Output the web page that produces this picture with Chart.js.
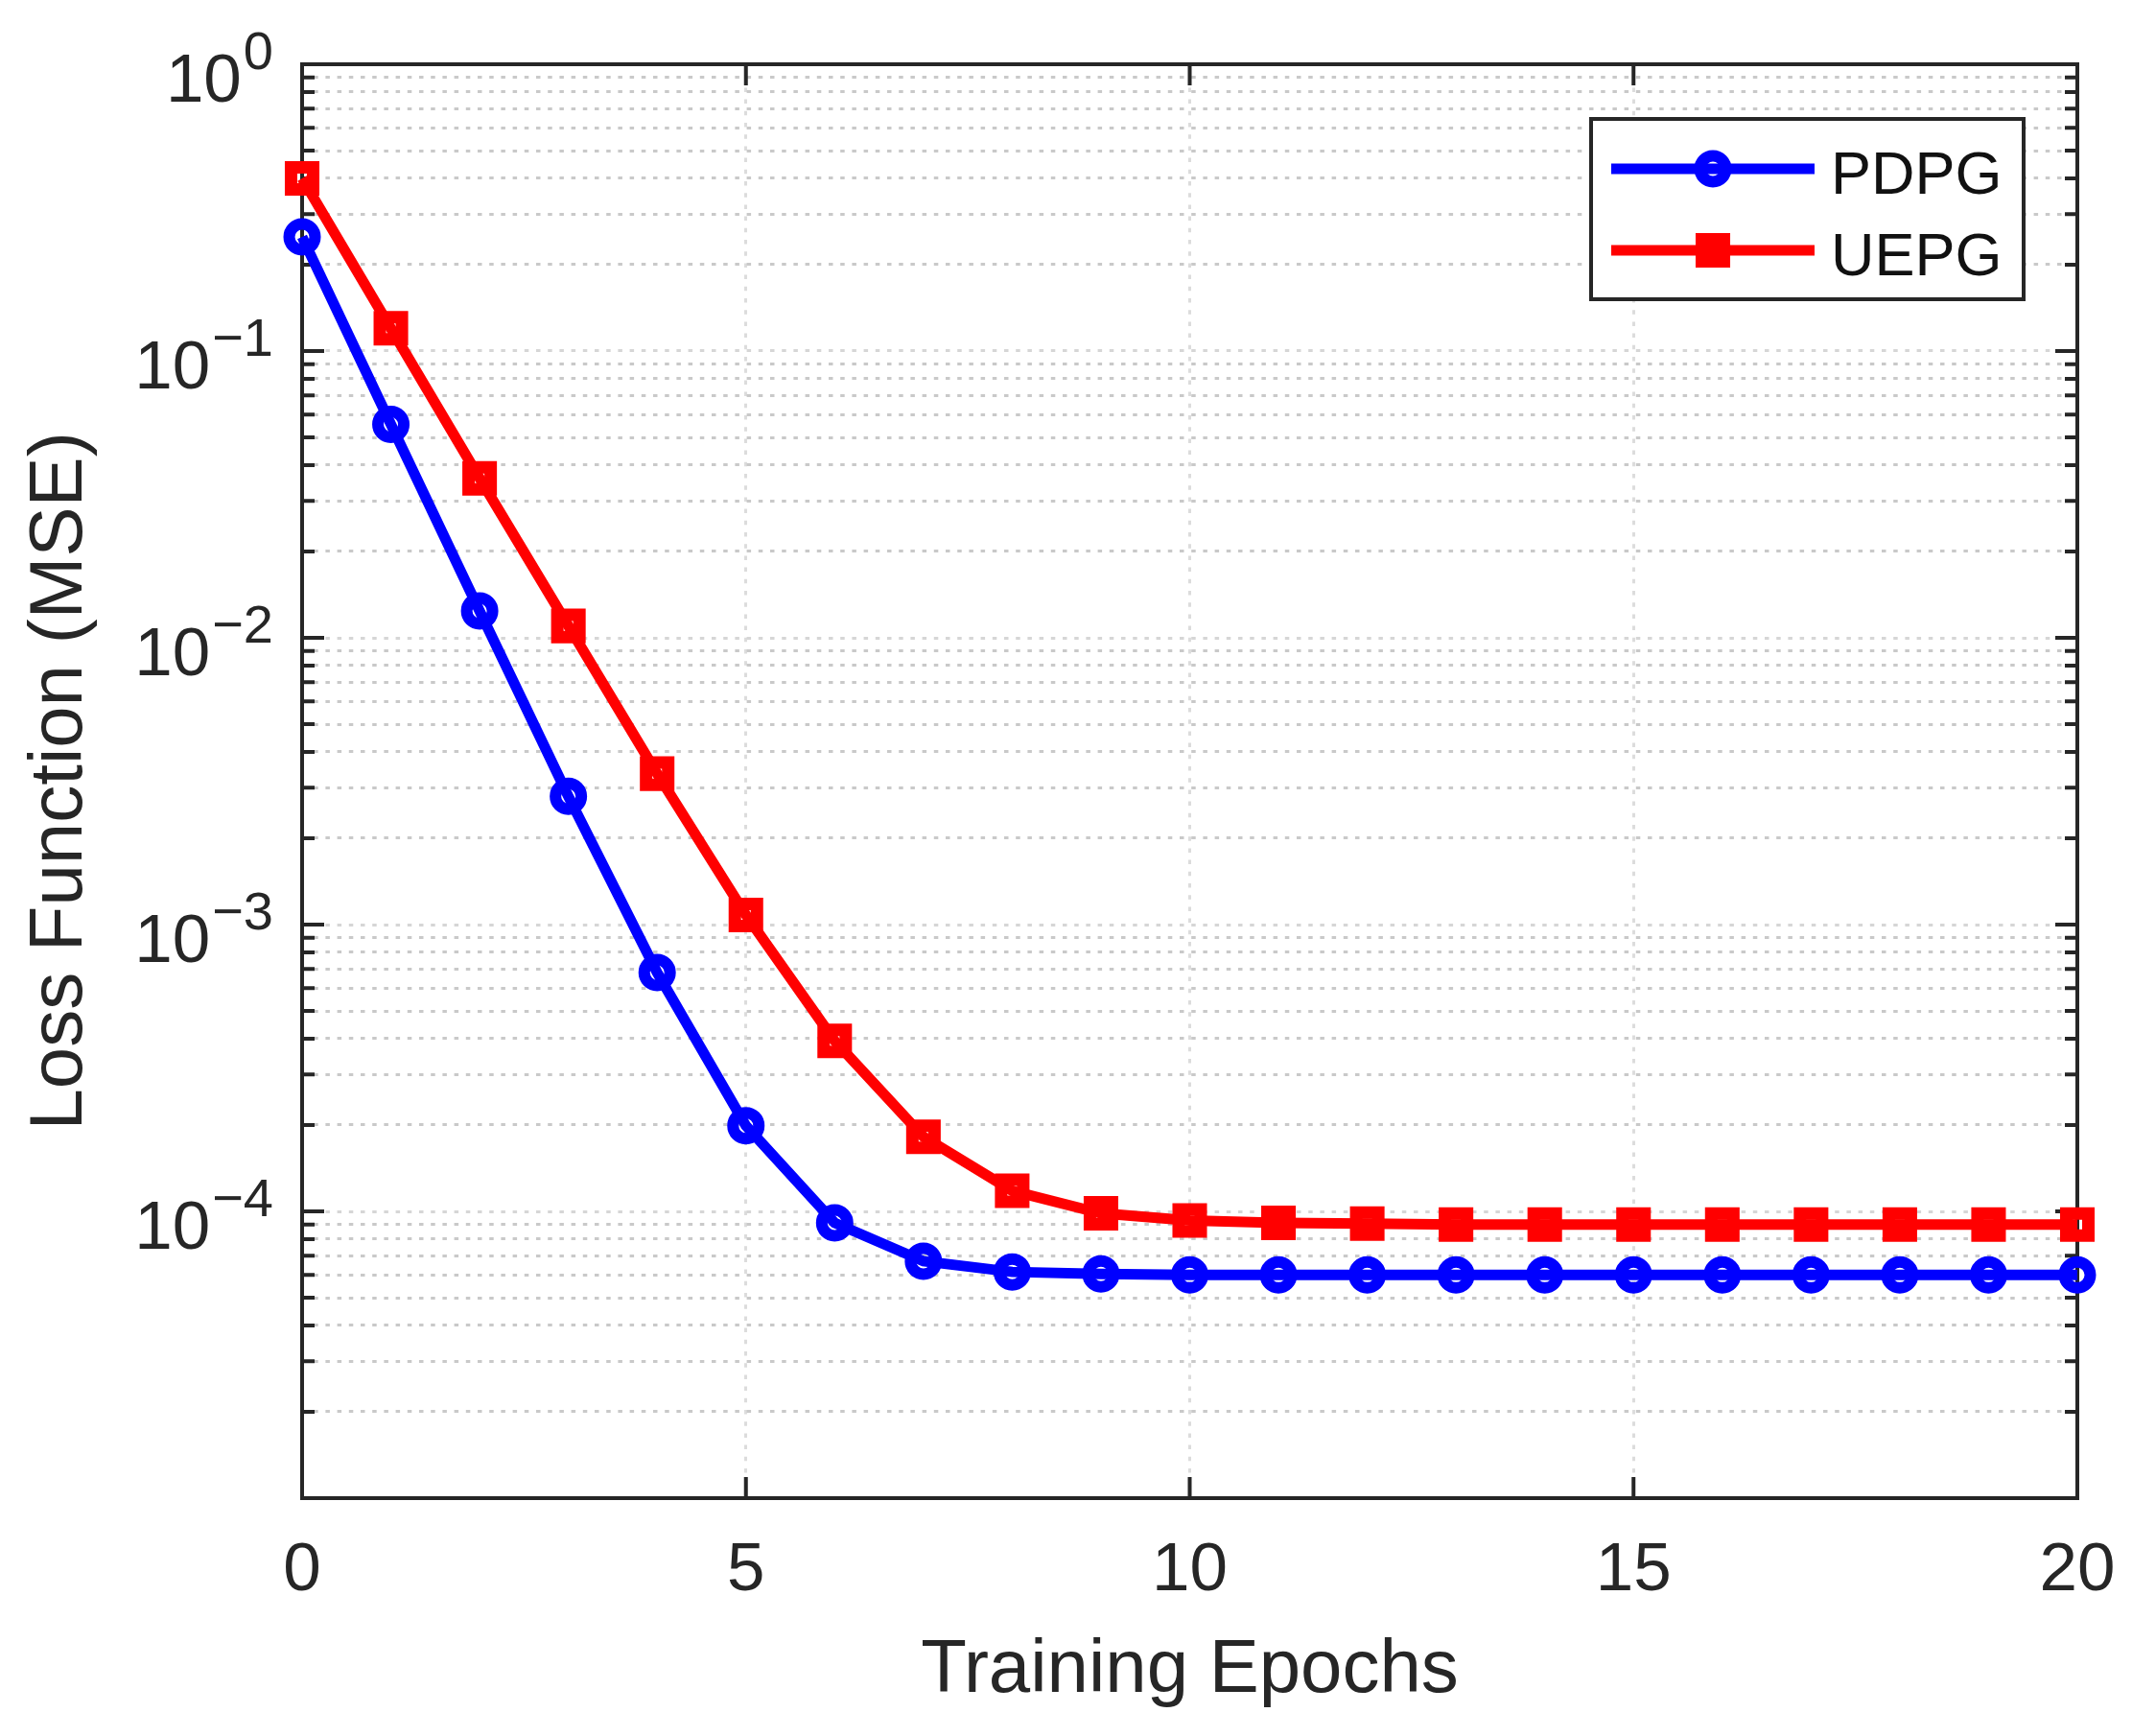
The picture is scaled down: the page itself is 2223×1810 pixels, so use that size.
<!DOCTYPE html>
<html lang="en">
<head>
  <meta charset="UTF-8">
  <title>Loss Function vs Training Epochs</title>
  <script src="https://cdn.jsdelivr.net/npm/chart.js"></script>
  <style>
    html, body {
      margin: 0;
      padding: 0;
      background-color: #ffffff;
    }
    canvas {
      display: block;
    }
  </style>
</head>
<body>

  <canvas id="lossChart" width="2223" height="1810"></canvas>

  <script>
    // data
    const epochs = [0, 1, 2, 3, 4, 5, 6, 7, 8, 9, 10, 11, 12, 13, 14, 15, 16, 17, 18, 19, 20];
    const pdpgLoss = [0.25, 0.0555, 0.0124, 0.0028, 0.00068, 0.000199, 0.0000912, 0.000067, 0.0000615, 0.0000605,
                      0.00006, 0.00006, 0.00006, 0.00006, 0.00006, 0.00006, 0.00006, 0.00006, 0.00006, 0.00006, 0.00006];
    const uepgLoss = [0.4, 0.12, 0.036, 0.011, 0.00336, 0.00108, 0.000393, 0.000182, 0.000118, 0.0000985,
                      0.0000929, 0.0000912, 0.0000906, 0.00009, 0.00009, 0.00009, 0.00009, 0.00009, 0.00009, 0.00009, 0.00009];
    const seriesNames = ['PDPG', 'UEPG'];
    const xTicks = [0, 5, 10, 15, 20];
    const yTickExponents = [0, -1, -2, -3, -4];

    const FONT = '"Liberation Sans", Arial, Helvetica, sans-serif';
    const INK = '#262626';

    // all minor/major positions of the log grid, 1e-5 .. 1
    function logGridTicks() {
      const list = [];
      for (let e = -5; e < 0; e++) {
        for (let k = 1; k <= 9; k++) {
          list.push({ value: k * Math.pow(10, e), major: k === 1 });
        }
      }
      list.push({ value: 1, major: true });
      return list;
    }

    // box, inward ticks, y labels with exponents, legend
    const matlabAxes = {
      id: 'matlabAxes',
      beforeDatasetsDraw(chart) {
        const { ctx, chartArea: a, scales: { x, y } } = chart;
        ctx.save();
        ctx.strokeStyle = INK;
        ctx.lineWidth = 4;
        ctx.beginPath();
        x.ticks.forEach(t => {
          const px = x.getPixelForValue(t.value);
          ctx.moveTo(px, a.bottom);
          ctx.lineTo(px, a.bottom - 22);
          ctx.moveTo(px, a.top);
          ctx.lineTo(px, a.top + 22);
        });
        y.ticks.forEach(t => {
          const py = y.getPixelForValue(t.value);
          const len = t.major ? 23 : 13;
          ctx.moveTo(a.left, py);
          ctx.lineTo(a.left + len, py);
          ctx.moveTo(a.right, py);
          ctx.lineTo(a.right - len, py);
        });
        ctx.stroke();
        ctx.strokeRect(a.left, a.top, a.right - a.left, a.bottom - a.top);

        // y tick labels: 10 with superscript exponent
        ctx.fillStyle = INK;
        ctx.textAlign = 'right';
        ctx.textBaseline = 'alphabetic';
        yTickExponents.forEach(e => {
          const py = y.getPixelForValue(Math.pow(10, e));
          const sup = e === 0 ? '0' : '\u2212' + Math.abs(e);
          const right = a.left - 30;
          ctx.font = '56px ' + FONT;
          const wSup = ctx.measureText(sup).width;
          ctx.fillText(sup, right, py + 5);
          ctx.font = '71px ' + FONT;
          ctx.fillText('10', right - wSup - 2, py + 39);
        });
        ctx.restore();
      },
      afterDraw(chart) {
        const { ctx, chartArea: a } = chart;
        const boxRight = a.right - 56;
        const boxLeft = boxRight - 451;
        const boxTop = a.top + 57;
        const boxBottom = boxTop + 188;
        ctx.save();
        ctx.fillStyle = '#ffffff';
        ctx.fillRect(boxLeft, boxTop, boxRight - boxLeft, boxBottom - boxTop);
        ctx.strokeStyle = INK;
        ctx.lineWidth = 4;
        ctx.strokeRect(boxLeft, boxTop, boxRight - boxLeft, boxBottom - boxTop);

        chart.data.datasets.forEach((ds, i) => {
          const rowY = boxTop + 52 + i * 85;
          const mx = boxLeft + 127;
          ctx.strokeStyle = ds.borderColor;
          ctx.lineWidth = ds.borderWidth;
          ctx.beginPath();
          ctx.moveTo(boxLeft + 21, rowY);
          ctx.lineTo(boxLeft + 233, rowY);
          ctx.stroke();
          ctx.lineWidth = ds.pointBorderWidth;
          ctx.beginPath();
          if (ds.pointStyle === 'rect') {
            const half = ds.pointRadius * Math.SQRT1_2;
            ctx.rect(mx - half, rowY - half, 2 * half, 2 * half);
          } else {
            ctx.arc(mx, rowY, ds.pointRadius, 0, Math.PI * 2);
          }
          ctx.stroke();

          ctx.fillStyle = '#111111';
          ctx.font = '63px ' + FONT;
          ctx.textAlign = 'left';
          ctx.textBaseline = 'alphabetic';
          ctx.fillText(ds.label, boxLeft + 250, rowY + 26);
        });
        ctx.restore();
      }
    };

    const ctx = document.getElementById('lossChart').getContext('2d');
    const lossChart = new Chart(ctx, {
      type: 'line',
      data: {
        datasets: [{
          label: seriesNames[0],
          data: epochs.map((e, i) => ({ x: e, y: pdpgLoss[i] })),
          borderColor: '#0000ff',
          borderWidth: 11,
          pointStyle: 'circle',
          pointRadius: 13.5,
          pointBorderWidth: 12,
          pointBorderColor: '#0000ff',
          pointBackgroundColor: 'rgba(0,0,0,0)',
          tension: 0,
          clip: false,
          order: 2
        }, {
          label: seriesNames[1],
          data: epochs.map((e, i) => ({ x: e, y: uepgLoss[i] })),
          borderColor: '#ff0000',
          borderWidth: 11,
          pointStyle: 'rect',
          pointRadius: 16.3,
          pointBorderWidth: 13,
          pointBorderColor: '#ff0000',
          pointBackgroundColor: 'rgba(0,0,0,0)',
          tension: 0,
          clip: false,
          order: 1
        }]
      },
      options: {
        responsive: false,
        devicePixelRatio: 1,
        animation: false,
        events: [],
        layout: {
          padding: { left: 0, top: 67, right: 57, bottom: 0 }
        },
        plugins: {
          legend: { display: false },
          tooltip: { enabled: false }
        },
        scales: {
          x: {
            type: 'linear',
            min: 0,
            max: 20,
            afterBuildTicks: s => { s.ticks = xTicks.map(v => ({ value: v })); },
            afterFit: s => {
              s.height = 248;
              s.paddingLeft = 0;
              s.paddingRight = 0;
            },
            grid: { color: '#dcdcdc', lineWidth: 3, drawTicks: false },
            border: { display: false, dash: [4.5, 7.7] },
            ticks: {
              font: { family: FONT, size: 71 },
              color: INK,
              padding: 34,
              autoSkip: false,
              maxRotation: 0
            },
            title: {
              display: true,
              text: 'Training Epochs',
              font: { family: FONT, size: 78 },
              color: INK,
              padding: { top: 0, bottom: 21 }
            }
          },
          y: {
            type: 'logarithmic',
            min: 1e-5,
            max: 1,
            afterBuildTicks: s => { s.ticks = logGridTicks(); },
            afterFit: s => {
              s.width = 315;
              s.paddingTop = 0;
              s.paddingBottom = 0;
            },
            grid: {
              color: c => (c.tick && c.tick.major) ? '#d6d6d6' : '#c9c9c9',
              lineWidth: 3,
              drawTicks: false
            },
            border: { display: false, dash: [4.5, 7.7] },
            ticks: { display: false, autoSkip: false },
            title: {
              display: true,
              text: 'Loss Function (MSE)',
              font: { family: FONT, size: 78 },
              color: INK,
              padding: { top: 17, bottom: 0 }
            }
          }
        }
      },
      plugins: [matlabAxes]
    });
  </script>
</body>
</html>
